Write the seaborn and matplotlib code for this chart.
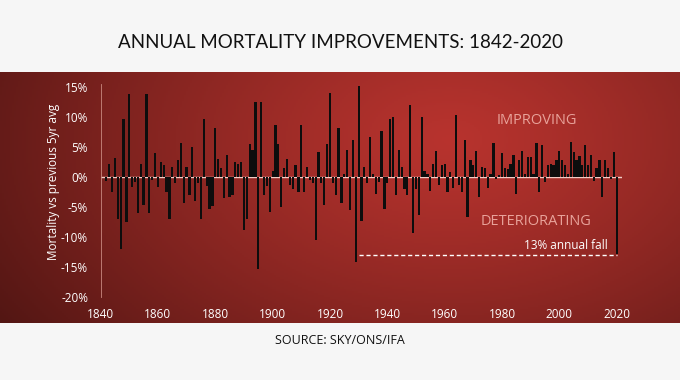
import numpy as np
import pandas as pd
import matplotlib.pyplot as plt
import seaborn as sns
from matplotlib import font_manager

sns.set_theme(style='white')

# pick a narrow-ish font if there is one
names = set(f.name for f in font_manager.fontManager.ttflist)
title_font = 'Liberation Sans Narrow' if 'Liberation Sans Narrow' in names else 'Lato'
plt.rcParams['font.family'] = ['Open Sans', 'DejaVu Sans']

#### DATA ####
years = list(range(1842, 2021))
change_1840s = [-0.7, 2.2, -2.5, 3.1, -7.0, -12.0, 9.6, -7.5]                   # 1842-1849
change_1850s = [13.8, -1.7, -0.8, -6.0, 2.2, -4.7, 13.8, -6.1, -0.5, 3.9]
change_1860s = [-1.7, 2.5, 2.0, -2.5, -7.0, 1.7, -1.0, 2.8, 5.7, -4.3]
change_1870s = [1.7, -3.0, 5.0, -4.0, -1.0, -7.0, 9.6, -1.5, -5.3, -4.8]
change_1880s = [8.2, 3.0, 1.4, -3.6, 3.6, -3.3, -3.0, 2.5, 2.2, 2.5]
change_1890s = [-8.9, -7.0, 5.4, 4.4, 12.4, -15.3, 12.4, -3.0, -1.5, -5.8]
change_1900s = [1.0, 8.7, 5.4, -5.0, 1.5, 3.0, -1.4, -2.0, 1.9, -2.5]
change_1910s = [8.7, -2.5, 1.7, -0.5, -1.0, -10.6, 4.2, -1.0, -4.7, 5.4]
change_1920s = [14.0, -1.0, -3.0, 8.2, -4.4, 0.5, 4.4, -5.5, 6.1, -14.2]
change_1930s = [15.2, -7.4, 1.7, -1.0, 6.7, 0.5, -2.8, -0.8, 7.6, -5.3]
change_1940s = [-1.0, 9.6, 10.0, -3.0, 4.4, 1.7, -2.0, -3.0, 12.0, -9.4]
change_1950s = [-2.0, -6.4, 10.0, 1.0, 0.5, -2.4, 2.2, 4.3, -1.4, 1.9]
change_1960s = [2.2, -2.6, 0.8, -1.9, 10.3, -1.4, -2.5, 6.1, -6.7, 2.8]
change_1970s = [1.9, 4.3, -3.3, 1.7, 1.4, -1.9, 0.5, 5.6, -0.3, 0.3]
change_1980s = [3.9, 1.4, 1.3, 2.2, 3.6, -2.8, 2.8, 4.3, 0.5, 3.3]
change_1990s = [3.3, 0.5, 5.6, -2.5, 5.3, -0.8, 1.9, 2.2, 1.9, 2.8]
change_2000s = [4.3, 2.8, 1.9, 0.5, 5.8, 4.2, 2.8, 3.5, 1.9, 5.3]
change_2010s = [1.9, 3.6, -0.7, 1.4, 2.8, -3.3, 2.8, 1.4, -0.3, 4.2]
change_2020 = [-12.8]

change = (change_1840s + change_1850s + change_1860s + change_1870s + change_1880s
          + change_1890s + change_1900s + change_1910s + change_1920s + change_1930s
          + change_1940s + change_1950s + change_1960s + change_1970s + change_1980s
          + change_1990s + change_2000s + change_2010s + change_2020)

df = pd.DataFrame({'year': years, 'change': change})

ytick_vals = [15, 10, 5, 0, -5, -10, -15, -20]
xtick_vals = [1840, 1860, 1880, 1900, 1920, 1940, 1960, 1980, 2000, 2020]
fall_start, fall_end, fall_level = 1930, 2020, -13

#### FIGURE ####
fig = plt.figure(figsize=(6.8, 3.8), dpi=100, facecolor='#f6f6f6')

# red panel with a soft radial glow
bg = fig.add_axes([0, 57 / 380, 1, 251 / 380])
gx, gy = np.meshgrid(np.linspace(0, 680, 340), np.linspace(72, 323, 126))
r = np.sqrt(((gx - 450) / 560) ** 2 + ((gy - 140) / 360) ** 2)
t = np.clip(r, 0, 1) ** 1.2
inner = np.array([0.72, 0.20, 0.18])
outer = np.array([0.30, 0.08, 0.07])
img = inner[None, None, :] * (1 - t[..., None]) + outer[None, None, :] * t[..., None]
bg.imshow(img, aspect='auto', extent=[0, 680, 323, 72])
bg.axis('off')

ax = fig.add_axes([100.6 / 680, 83.3 / 380, 521.8 / 680, 213 / 380])
ax.patch.set_alpha(0)
ax.axhline(0, color='#f2cdc6', lw=1.0, zorder=0)
sns.barplot(data=df, x='year', y='change', native_scale=True, color='#0d0d0d',
            saturation=1, width=0.78, linewidth=0, ax=ax, zorder=2)

ax.plot([fall_start, fall_end], [fall_level, fall_level], color='white', lw=1,
        ls=(0, (3, 2)), zorder=3)

ax.set_xlim(1840, 2022)
ax.set_ylim(-20, 15.5)
ax.set_xticks(xtick_vals)
ax.set_xticklabels([str(v) for v in xtick_vals])
ax.set_yticks(ytick_vals)
ax.set_yticklabels([f'{v}%' for v in ytick_vals])
ax.tick_params(colors='white', labelsize=8.5, length=0)
ax.tick_params(axis='x', pad=8)
ax.tick_params(axis='y', pad=9)
ax.set_xlabel('')
ax.set_ylabel('')
for s in ['top', 'right', 'bottom']:
    ax.spines[s].set_visible(False)
ax.spines['left'].set_color('#c98880')
ax.spines['left'].set_linewidth(0.6)
ax.spines['left'].set_bounds(-20, 15.5)

ax.text(1992.2, 9.4, 'IMPROVING', color='#e8a29a', fontsize=10.5,
        ha='center', va='center')
ax.text(1991.9, -7.4, 'DETERIORATING', color='#e8a29a', fontsize=10.5,
        ha='center', va='center')
ax.text(2002.3, -12.6, '13% annual fall', color='white', fontsize=8.5,
        ha='center', va='bottom')

fig.text(54 / 680, 0.522, 'Mortality vs previous 5yr avg', rotation=90,
         color='white', fontsize=8.5, ha='center', va='center')

fig.text(0.5, 1 - 42 / 380, 'ANNUAL MORTALITY IMPROVEMENTS: 1842-2020',
         color='#111111', fontsize=13.5, ha='center', va='center',
         family=[title_font, 'DejaVu Sans'])
fig.text(0.5, 1 - 341 / 380, 'SOURCE: SKY/ONS/IFA', color='#111111',
         fontsize=9, ha='center', va='center')

fig.savefig('out.png', dpi=100, facecolor=fig.get_facecolor())
